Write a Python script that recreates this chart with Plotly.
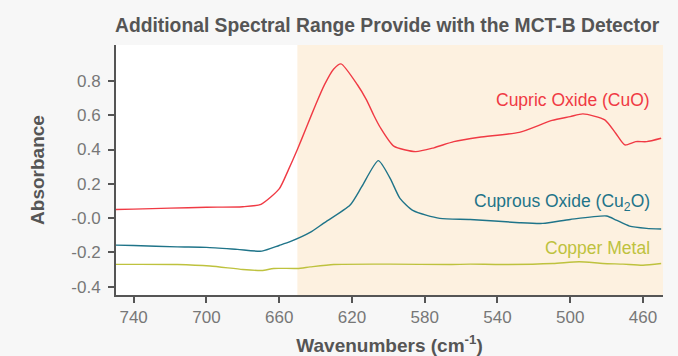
import plotly.graph_objects as go

# Cupric Oxide (CuO)
cuo_x = [750, 740, 720, 700, 680, 670, 660, 655, 650, 645, 640, 635, 630, 626, 617, 612, 608, 604.5, 597, 585, 575, 564, 550, 528, 510, 500, 493, 481, 475, 470, 464, 458, 450]
cuo_y = [0.05, 0.052, 0.058, 0.063, 0.066, 0.08, 0.17, 0.28, 0.40, 0.53, 0.66, 0.78, 0.87, 0.90, 0.778, 0.69, 0.60, 0.53, 0.42, 0.388, 0.41, 0.446, 0.472, 0.50, 0.57, 0.592, 0.608, 0.573, 0.495, 0.427, 0.446, 0.446, 0.466]

# Cuprous Oxide (Cu2O)
cu2o_x = [750, 740, 716, 700, 683, 669.5, 660, 654, 643, 635.7, 621, 614.6, 605.5, 599, 593.6, 586.3, 571.7, 555, 528, 515, 500, 480, 474.7, 467.4, 458, 450]
cu2o_y = [-0.158, -0.16, -0.168, -0.171, -0.183, -0.193, -0.16, -0.138, -0.084, -0.031, 0.076, 0.183, 0.335, 0.232, 0.115, 0.043, -0.002, -0.008, -0.027, -0.031, -0.008, 0.012, -0.012, -0.047, -0.06, -0.064]

# Copper Metal
cu_x = [750, 740, 716, 698, 680, 669.5, 663, 650, 643, 630, 599, 566, 555, 537, 509.5, 495, 482, 471, 460, 450]
cu_y = [-0.27, -0.27, -0.271, -0.28, -0.30, -0.306, -0.294, -0.294, -0.285, -0.271, -0.269, -0.271, -0.269, -0.271, -0.265, -0.255, -0.265, -0.269, -0.275, -0.265]

ytick_vals = [0.8, 0.6, 0.4, 0.2, 0.0, -0.2, -0.4]
ytick_text = ["0.8", "0.6", "0.4", "0.2", "-0.0", "-0.2", "-0.4"]
xtick_vals = [740, 700, 660, 620, 580, 540, 500, 460]

RED = "#f03a44"
TEAL = "#1f7489"
YEL = "#bec23e"
FONT = "Liberation Sans, Arial, sans-serif"

fig = go.Figure()
for xs, ys, c in [(cuo_x, cuo_y, RED), (cu2o_x, cu2o_y, TEAL), (cu_x, cu_y, YEL)]:
    fig.add_trace(go.Scatter(x=xs, y=ys, mode="lines",
                             line=dict(color=c, width=1.4, shape="spline", smoothing=0.6),
                             showlegend=False, hoverinfo="skip"))

fig.add_shape(type="rect", xref="x", yref="paper", x0=650, x1=449, y0=0, y1=1,
              fillcolor="#fdf1e0", line=dict(width=0), layer="below")

fig.add_annotation(x=455, y=0.69, text="Cupric Oxide (CuO)", showarrow=False,
                   xanchor="right", yanchor="middle", font=dict(color=RED, size=17.5, family=FONT))
fig.add_annotation(x=455, y=0.09, text="Cuprous Oxide (Cu<sub>2</sub>O)", showarrow=False,
                   xanchor="right", yanchor="middle", font=dict(color=TEAL, size=17.5, family=FONT))
fig.add_annotation(x=455, y=-0.175, text="Copper Metal", showarrow=False,
                   xanchor="right", yanchor="middle", font=dict(color=YEL, size=17.5, family=FONT))

fig.update_layout(
    width=678, height=356,
    margin=dict(l=116, r=15, t=45, b=61, autoexpand=False),
    paper_bgcolor="#f7f7f7", plot_bgcolor="white",
    font=dict(family=FONT, color="#666666"),
    title=dict(text="<b>Additional Spectral Range Provide with the MCT-B Detector</b>",
               x=115 / 678, xanchor="left", y=1 - 25 / 356, yanchor="middle",
               font=dict(size=19.3, color="#555555", family=FONT)),
    xaxis=dict(range=[749.7, 449], tickvals=xtick_vals, ticks="outside", ticklen=6, tickwidth=2,
               tickcolor="#555555", showline=True, linecolor="#555555", linewidth=2,
               showgrid=False, zeroline=False, tickfont=dict(size=17, color="#777777"),
               title=dict(text="<b>Wavenumbers (cm<sup>-1</sup>)</b>", standoff=12,
                          font=dict(size=19, color="#555555"))),
    yaxis=dict(range=[-0.449, 1.01], tickvals=ytick_vals, ticktext=ytick_text, ticks="outside",
               ticklen=6, tickwidth=2, tickcolor="#555555", showline=True, linecolor="#555555",
               linewidth=2, showgrid=False, zeroline=False, tickfont=dict(size=17, color="#777777"),
               ticklabelstandoff=4,
               title=dict(text="<b>Absorbance</b>", standoff=22, font=dict(size=19, color="#555555"))),
)

fig.write_html("out.html")
